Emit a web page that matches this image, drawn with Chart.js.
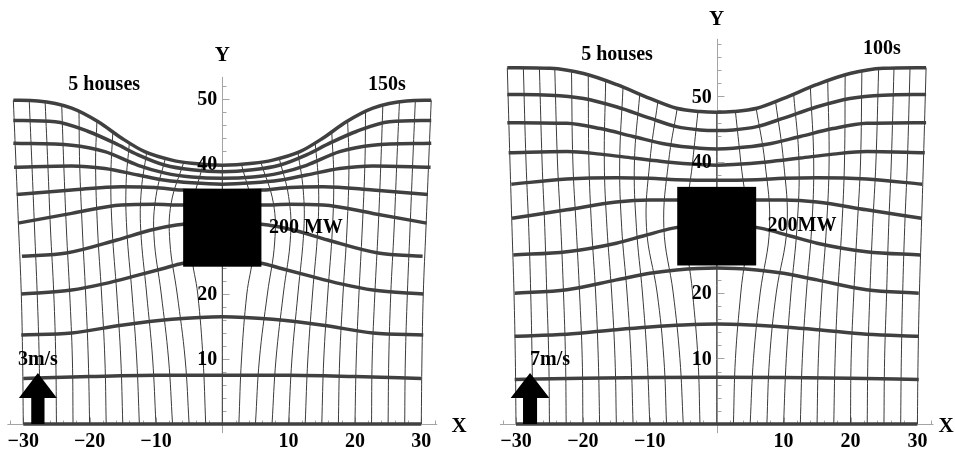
<!DOCTYPE html>
<html>
<head>
<meta charset="utf-8">
<script src="https://cdn.jsdelivr.net/npm/chart.js@4.4.1/dist/chart.umd.min.js"></script>
<style>
  html, body { margin: 0; padding: 0; background: #fff; }
  #wrap { position: relative; width: 955px; height: 453px; }
  canvas { position: absolute; top: 0; }
  #leftChart { left: 0; }
  #rightChart { left: 478px; }
</style>
</head>
<body>
<div id="wrap">
  <canvas id="leftChart" width="478" height="453"></canvas>
  <canvas id="rightChart" width="477" height="453"></canvas>
</div>
<script>
// tick labels shared by both panels
const xTickLabels = [-30, -20, -10, 10, 20, 30];
const yTickLabels = [10, 20, 30, 40, 50];

// heat source (houses) outline: [xMin, xMax, yMin, yMax]
const sourceBox = [-5.9, 5.9, 24.2, 36.2];

// ---- left panel, 3 m/s after 150 s ----
// thick lines (material lines)
const leftThick = [
  [[-30,0],[30,0]],
  [[-30,7.0],[-20,7.3],[-10,7.5],[0,7.5],[10,7.5],[20,7.3],[30,7.0]],
  [[-30.3,13.7],[-22.7,14.0],[-15.2,15.2],[-7.6,16.1],[0,16.5],[7.6,16.1],[15.2,15.2],[22.7,14.0],[30.3,13.7]],
  [[-30.3,20.0],[-22.7,20.6],[-17.7,21.6],[-12.7,22.9],[-8.6,24.0],[-6.1,24.7],[0,25.3],[6.1,24.7],[8.6,24.0],[12.7,22.9],[17.7,21.6],[22.7,20.6],[30.3,20.0]],
  [[-30.2,25.8],[-23.5,26.3],[-15.9,28.3],[-10.9,29.8],[-6.9,30.6],[0,31.2],[6.9,30.6],[10.9,29.8],[15.9,28.3],[23.5,26.3],[30.2,25.8]],
  [[-30.8,30.9],[-22.7,32.4],[-15.2,33.7],[-10.2,33.8],[-6.1,33.7],[0,33.7],[6.1,33.7],[10.2,33.8],[15.2,33.7],[22.7,32.4],[30.8,30.9]],
  [[-31.0,35.3],[-22.7,36.0],[-15.2,36.5],[-10.2,36.4],[-6.1,36.0],[0,35.9],[6.1,36.0],[10.2,36.4],[15.2,36.5],[22.7,36.0],[31.0,35.3]],
  [[-31.4,39.5],[-22.7,39.7],[-17.7,39.3],[-12.7,38.3],[-8.6,37.5],[-4.6,37.1],[0,36.9],[4.6,37.1],[8.6,37.5],[12.7,38.3],[17.7,39.3],[22.7,39.7],[31.4,39.5]],
  [[-31.5,43.2],[-22.7,42.9],[-17.7,41.9],[-12.7,39.8],[-8.6,38.6],[-4.6,38.0],[0,37.8],[4.6,38.0],[8.6,38.6],[12.7,39.8],[17.7,41.9],[22.7,42.9],[31.5,43.2]],
  [[-31.5,46.7],[-25.2,46.5],[-20.2,45.0],[-16.2,43.2],[-12.7,41.4],[-8.6,39.8],[-4.6,39.1],[0,38.8],[4.6,39.1],[8.6,39.8],[12.7,41.4],[16.2,43.2],[20.2,45.0],[25.2,46.5],[31.5,46.7]],
  [[-31.5,49.8],[-27.8,49.7],[-22.7,48.6],[-18.7,46.5],[-15.2,44.0],[-11.7,41.9],[-7.6,40.6],[-4.6,40.1],[0,39.8],[4.6,40.1],[7.6,40.6],[11.7,41.9],[15.2,44.0],[18.7,46.5],[22.7,48.6],[27.8,49.7],[31.5,49.8]]
];

// thin lines (trajectories), one per starting x
const leftThin = [
  [[-30,0],[-30.1,10],[-30.3,20],[-30.7,30],[-31.1,40],[-31.5,49.8]],
  [[-27.5,0],[-27.6,10],[-27.9,20],[-28.3,30],[-28.7,40],[-29.1,49.7]],
  [[-25,0],[-25.1,10],[-25.4,20],[-25.9,30],[-26.3,40],[-26.7,49.4]],
  [[-22.5,0],[-22.6,10],[-23.0,20],[-23.5,30],[-23.9,40],[-24.2,48.9]],
  [[-20,0],[-20.2,10],[-20.6,20],[-21.1,30],[-21.5,40],[-21.6,48.0]],
  [[-17.5,0],[-17.7,10],[-18.2,20],[-18.8,30],[-19.1,40],[-18.9,46.6]],
  [[-15,0],[-15.3,10],[-15.9,20],[-16.6,30],[-16.8,38],[-16.5,45.0]],
  [[-12.5,0],[-12.9,10],[-13.6,20],[-14.4,30],[-14.5,37],[-14.0,43.3]],
  [[-10,0],[-10.5,10],[-11.4,20],[-12.3,30],[-12.2,36],[-11.4,41.8]],
  [[-7.5,0],[-8.1,10],[-9.2,20],[-10.3,29],[-10.0,35],[-8.6,40.8]],
  [[-5,0],[-5.6,10],[-6.8,20],[-7.9,28],[-7.7,34],[-5.8,40.3]],
  [[-2.5,0],[-2.9,10],[-3.7,20],[-4.6,26],[-4.6,33],[-2.9,39.9]],
  [[0,0],[0,39.8]],
  [[2.5,0],[2.9,10],[3.7,20],[4.6,26],[4.6,33],[2.9,39.9]],
  [[5,0],[5.6,10],[6.8,20],[7.9,28],[7.7,34],[5.8,40.3]],
  [[7.5,0],[8.1,10],[9.2,20],[10.3,29],[10.0,35],[8.6,40.8]],
  [[10,0],[10.5,10],[11.4,20],[12.3,30],[12.2,36],[11.4,41.8]],
  [[12.5,0],[12.9,10],[13.6,20],[14.4,30],[14.5,37],[14.0,43.3]],
  [[15,0],[15.3,10],[15.9,20],[16.6,30],[16.8,38],[16.5,45.0]],
  [[17.5,0],[17.7,10],[18.2,20],[18.8,30],[19.1,40],[18.9,46.6]],
  [[20,0],[20.2,10],[20.6,20],[21.1,30],[21.5,40],[21.6,48.0]],
  [[22.5,0],[22.6,10],[23.0,20],[23.5,30],[23.9,40],[24.2,48.9]],
  [[25,0],[25.1,10],[25.4,20],[25.9,30],[26.3,40],[26.7,49.4]],
  [[27.5,0],[27.6,10],[27.9,20],[28.3,30],[28.7,40],[29.1,49.7]],
  [[30,0],[30.1,10],[30.3,20],[30.7,30],[31.1,40],[31.5,49.8]]
];

// ---- right panel, 7 m/s after 100 s ----
const rightThick = [
  [[-30,0],[30,0]],
  [[-30.2,6.8],[-20,7.0],[-10,7.1],[0,7.15],[10,7.1],[20,7.0],[30.2,6.8]],
  [[-30.2,13.4],[-22.4,13.7],[-15,14.4],[-10,14.8],[-5,15.1],[0,15.25],[5,15.1],[10,14.8],[15,14.4],[22.4,13.7],[30.2,13.4]],
  [[-30.2,19.95],[-22.4,20.5],[-15,22.0],[-10,23.0],[-6,23.5],[0,23.8],[6,23.5],[10,23.0],[15,22.0],[22.4,20.5],[30.2,19.95]],
  [[-30.4,25.8],[-22.4,26.3],[-15,27.6],[-11,28.7],[-6.5,29.9],[0,30.6],[6.5,29.9],[11,28.7],[15,27.6],[22.4,26.3],[30.4,25.8]],
  [[-30.6,31.4],[-22.4,32.7],[-15,33.9],[-10,34.2],[-6,34.2],[0,34.2],[6,34.2],[10,34.2],[15,33.9],[22.4,32.7],[30.6,31.4]],
  [[-30.7,36.6],[-22.4,37.4],[-15,37.6],[-10,37.5],[-6,37.3],[0,37.2],[6,37.3],[10,37.5],[15,37.6],[22.4,37.4],[30.7,36.6]],
  [[-31.1,41.4],[-22.4,41.6],[-17.4,41.2],[-12.5,40.6],[-7.5,40.0],[-2.5,39.6],[0,39.5],[2.5,39.6],[7.5,40.0],[12.5,40.6],[17.4,41.2],[22.4,41.6],[31.1,41.4]],
  [[-31.3,46.0],[-22.4,45.9],[-17.4,45.1],[-12.5,43.9],[-7.5,42.7],[-2.5,42.1],[0,42.0],[2.5,42.1],[7.5,42.7],[12.5,43.9],[17.4,45.1],[22.4,45.9],[31.3,46.0]],
  [[-31.3,50.3],[-24.9,50.2],[-19.9,49.7],[-14.9,48.4],[-10,46.7],[-6,45.4],[-2.5,44.9],[0,44.8],[2.5,44.9],[6,45.4],[10,46.7],[14.9,48.4],[19.9,49.7],[24.9,50.2],[31.3,50.3]],
  [[-31.3,54.4],[-24.9,54.3],[-19.9,53.5],[-14.9,51.8],[-10,49.7],[-6,48.2],[-2.5,47.7],[0,47.6],[2.5,47.7],[6,48.2],[10,49.7],[14.9,51.8],[19.9,53.5],[24.9,54.3],[31.3,54.4]]
];

const rightThin = [
  [[-30,0],[-30.1,10],[-30.3,20],[-30.6,30],[-30.9,40],[-31.3,54.4]],
  [[-27.5,0],[-27.6,10],[-27.8,20],[-28.1,30],[-28.5,40],[-28.9,54.4]],
  [[-25,0],[-25.1,10],[-25.4,20],[-25.7,30],[-26.1,40],[-26.5,54.3]],
  [[-22.5,0],[-22.6,10],[-22.9,20],[-23.3,30],[-23.8,40],[-24.2,54.1]],
  [[-20,0],[-20.1,10],[-20.5,20],[-21.0,30],[-21.5,40],[-21.7,53.7]],
  [[-17.5,0],[-17.7,10],[-18.1,20],[-18.7,30],[-19.1,40],[-19.2,53.3]],
  [[-15,0],[-15.2,10],[-15.7,20],[-16.4,30],[-16.8,40],[-16.6,52.3]],
  [[-12.5,0],[-12.8,10],[-13.4,20],[-14.2,30],[-14.5,40],[-14.0,51.4]],
  [[-10,0],[-10.4,10],[-11.1,20],[-12.0,30],[-12.3,40],[-11.5,50.4]],
  [[-7.5,0],[-7.9,10],[-8.9,20],[-10.5,30],[-10.0,40],[-8.8,49.2]],
  [[-5,0],[-5.5,10],[-6.5,20],[-7.9,30],[-7.2,40],[-5.9,48.2]],
  [[-2.5,0],[-2.8,10],[-3.6,20],[-4.6,30],[-3.6,40],[-2.8,47.7]],
  [[0,0],[0,47.6]],
  [[2.5,0],[2.8,10],[3.6,20],[4.6,30],[3.6,40],[2.8,47.7]],
  [[5,0],[5.5,10],[6.5,20],[7.9,30],[7.2,40],[5.9,48.2]],
  [[7.5,0],[7.9,10],[8.9,20],[10.5,30],[10.0,40],[8.8,49.2]],
  [[10,0],[10.4,10],[11.1,20],[12.0,30],[12.3,40],[11.5,50.4]],
  [[12.5,0],[12.8,10],[13.4,20],[14.2,30],[14.5,40],[14.0,51.4]],
  [[15,0],[15.2,10],[15.7,20],[16.4,30],[16.8,40],[16.6,52.3]],
  [[17.5,0],[17.7,10],[18.1,20],[18.7,30],[19.1,40],[19.2,53.3]],
  [[20,0],[20.1,10],[20.5,20],[21.0,30],[21.5,40],[21.7,53.7]],
  [[22.5,0],[22.6,10],[22.9,20],[23.3,30],[23.8,40],[24.2,54.1]],
  [[25,0],[25.1,10],[25.4,20],[25.7,30],[26.1,40],[26.5,54.3]],
  [[27.5,0],[27.6,10],[27.8,20],[28.1,30],[28.5,40],[28.9,54.4]],
  [[30,0],[30.1,10],[30.3,20],[30.6,30],[30.9,40],[31.3,54.4]]
];

const FONT = '"Liberation Serif", "DejaVu Serif", serif';

const panels = {
  left: {
    thick: leftThick, thin: leftThin,
    xMin: -33.51, xMax: 38.55, yMin: -4.46, yMax: 65.23,
    yAxisTop: 53.4, yMinorTop: 52,
    notes: [
      { text: '5 houses', x: -17.8, y: 52.2 },
      { text: '150s', x: 24.8, y: 52.2 },
      { text: '200 MW', x: 12.6, y: 30.2 },
      { text: '3m/s', x: -27.8, y: 9.8 }
    ],
    yLabel: 56.7, xLabel: 35.7,
    arrow: { x: -27.8, tip: 7.85, base: 4.0, head: 2.86, shaft: 1.0 }
  },
  right: {
    thick: rightThick, thin: rightThin,
    xMin: -35.68, xMax: 35.62, yMin: -4.43, yMax: 64.73,
    yAxisTop: 58.8, yMinorTop: 58,
    notes: [
      { text: '5 houses', x: -14.9, y: 56.3 },
      { text: '100s', x: 24.7, y: 57.3 },
      { text: '200MW', x: 12.75, y: 30.2 },
      { text: '7m/s', x: -24.9, y: 9.8 }
    ],
    yLabel: 61.7, xLabel: 34.3,
    arrow: { x: -27.9, tip: 7.8, base: 3.97, head: 2.9, shaft: 1.05 }
  }
};

function makeOverlay(p) {
  return {
    id: 'overlay',
    beforeDatasetsDraw(chart) {
      const ctx = chart.ctx;
      const X = v => chart.scales.x.getPixelForValue(v);
      const Y = v => chart.scales.y.getPixelForValue(v);
      const x0 = Math.round(X(0)) + 0.5, y0 = Math.round(Y(0)) + 0.5;
      ctx.save();
      ctx.strokeStyle = '#a4a4a4';
      ctx.lineWidth = 1;
      ctx.beginPath();
      ctx.moveTo(X(-32.4), y0); ctx.lineTo(X(32.4), y0);
      ctx.moveTo(x0, Y(-1.4)); ctx.lineTo(x0, Y(p.yAxisTop));
      for (let v = -32; v <= 32; v += 2) {
        if (v === 0) continue;
        const len = v % 10 === 0 ? 7 : 4;
        const px = Math.round(X(v)) + 0.5;
        ctx.moveTo(px, y0); ctx.lineTo(px, y0 - len);
      }
      for (let v = 2; v <= p.yMinorTop; v += 2) {
        const len = v % 10 === 0 ? 7 : 4;
        const py = Math.round(Y(v)) + 0.5;
        ctx.moveTo(x0, py); ctx.lineTo(x0 + len, py);
      }
      ctx.stroke();
      ctx.restore();
    },
    afterDatasetsDraw(chart) {
      const ctx = chart.ctx;
      const X = v => chart.scales.x.getPixelForValue(v);
      const Y = v => chart.scales.y.getPixelForValue(v);
      ctx.save();
      ctx.fillStyle = '#000';
      ctx.font = 'bold 20px ' + FONT;
      ctx.textBaseline = 'middle';
      ctx.textAlign = 'right';
      yTickLabels.forEach(v => ctx.fillText(String(v), X(0) - 5, Y(v) + 1));
      ctx.textAlign = 'center';
      xTickLabels.forEach(v => ctx.fillText(String(v).replace('-', '\u2212'), X(v), Y(0) + 18));

      // heat source
      const [bx0, bx1, by0, by1] = sourceBox;
      ctx.fillRect(X(bx0), Y(by1), X(bx1) - X(bx0), Y(by0) - Y(by1));

      // wind arrow
      const a = p.arrow;
      ctx.beginPath();
      ctx.moveTo(X(a.x), Y(a.tip));
      ctx.lineTo(X(a.x + a.head), Y(a.base));
      ctx.lineTo(X(a.x + a.shaft), Y(a.base));
      ctx.lineTo(X(a.x + a.shaft), Y(0));
      ctx.lineTo(X(a.x - a.shaft), Y(0));
      ctx.lineTo(X(a.x - a.shaft), Y(a.base));
      ctx.lineTo(X(a.x - a.head), Y(a.base));
      ctx.closePath();
      ctx.fill();

      ctx.font = 'bold 20px ' + FONT;
      p.notes.forEach(n => ctx.fillText(n.text, X(n.x), Y(n.y)));
      ctx.font = 'bold 21px ' + FONT;
      ctx.fillText('Y', X(0), Y(p.yLabel));
      ctx.fillText('X', X(p.xLabel), Y(0) + 3);
      ctx.restore();
    }
  };
}

function makeChart(id, p) {
  const datasets = [];
  p.thin.forEach(pts => datasets.push({
    data: pts.map(([x, y]) => ({ x, y })),
    showLine: true, pointRadius: 0, borderColor: '#3a3a3a', borderWidth: 1,
    tension: 0.4, order: 2
  }));
  p.thick.forEach(pts => datasets.push({
    data: pts.map(([x, y]) => ({ x, y })),
    showLine: true, pointRadius: 0, borderColor: '#404040', borderWidth: 3.5,
    cubicInterpolationMode: 'monotone', order: 1
  }));
  new Chart(document.getElementById(id), {
    type: 'scatter',
    data: { datasets },
    options: {
      responsive: false,
      animation: false,
      events: [],
      layout: { padding: 0, autoPadding: false },
      plugins: { legend: { display: false }, tooltip: { enabled: false } },
      scales: {
        x: { type: 'linear', display: false, min: p.xMin, max: p.xMax },
        y: { type: 'linear', display: false, min: p.yMin, max: p.yMax }
      }
    },
    plugins: [makeOverlay(p)]
  });
}

makeChart('leftChart', panels.left);
makeChart('rightChart', panels.right);
</script>
</body>
</html>
